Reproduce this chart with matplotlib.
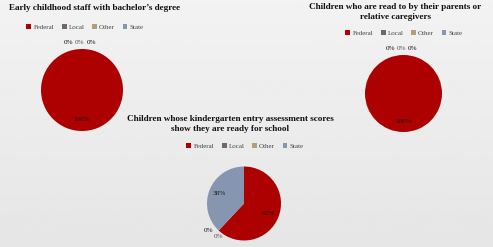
import numpy as np
import matplotlib
matplotlib.use("Agg")
import matplotlib.pyplot as plt
from matplotlib.patches import Patch

plt.rcParams['font.family'] = ['Liberation Serif', 'DejaVu Serif']

categories = ["Federal", "Local", "Other", "State"]
colors = ["#AD0000", "#756860", "#B59D78", "#8696B0"]

titles = ["Early childhood staff with bachelor\u2019s degree",
          "Children who are read to by their parents or\nrelative caregivers",
          "Children whose kindergarten entry assessment scores\nshow they are ready for school"]
staff_degree = [100, 0, 0, 0]
read_to = [100, 0, 0, 0]
ready_school = [62, 0, 0, 38]
all_values = [staff_degree, read_to, ready_school]

W, H = 493, 247
fig = plt.figure(figsize=(W / 100, H / 100), dpi=100)

# soft grey background
bg = fig.add_axes([0, 0, 1, 1], zorder=-10)
grad = np.linspace(0.95, 0.90, 100).reshape(-1, 1)
bg.imshow(grad, cmap='gray', vmin=0, vmax=1, aspect='auto', extent=[0, 1, 0, 1])
bg.axis('off')

# pixel layout: pie centre, radius, title pos, legend pos, zero-label spread
layout = [
    dict(c=(82, 90), r=41, title=(95, 8), leg=(85, 27), dx=0.27, dy=0.0),
    dict(c=(403.5, 93.5), r=38.5, title=(395, 12), leg=(404, 33), dx=0.29, dy=0.0),
    dict(c=(244, 203.5), r=37, title=(230, 124), leg=(245, 146), dx=0.27, dy=-0.16),
]


def fx(x):
    return x / W


def fy(y):
    return 1 - y / H


for vals, title, lay in zip(all_values, titles, layout):
    cx, cy = lay['c']
    r = lay['r']
    ax = fig.add_axes([fx(cx - r), fy(cy + r), 2 * r / W, 2 * r / H])
    wedges, texts, autotexts = ax.pie(
        vals, colors=colors, startangle=90, counterclock=False,
        autopct='%d%%', pctdistance=0.72,
        textprops=dict(fontsize=5.2, color='#1a1a1a'))
    ax.set_xlim(-1, 1)
    ax.set_ylim(-1, 1)
    ax.set_aspect('equal')
    ax.axis('off')
    zeros = [(w, t) for w, t, v in zip(wedges, autotexts, vals) if v == 0]
    for i, (w, t) in enumerate(zeros):
        ang = np.deg2rad(w.theta1)
        k = i - (len(zeros) - 1) / 2
        t.set_position((1.15 * np.cos(ang) + k * lay['dx'] - 0.05,
                        1.15 * np.sin(ang) + k * lay['dy'] + 0.02))
        t.set_color('#555555' if i % 2 else '#111111')
    fig.text(fx(lay['title'][0]), fy(lay['title'][1]), title, ha='center', va='center',
             fontsize=6.6, fontweight='bold', color='#111111', linespacing=1.3)
    handles = [Patch(facecolor=c, label=l) for c, l in zip(colors, categories)]
    fig.legend(handles=handles, loc='center', bbox_to_anchor=(fx(lay['leg'][0]), fy(lay['leg'][1])),
               ncol=4, frameon=False, fontsize=5, handlelength=0.7, handleheight=0.7,
               handletextpad=0.3, columnspacing=1.1, labelcolor='#444444', borderpad=0)

fig.savefig("out.png", dpi=100)
